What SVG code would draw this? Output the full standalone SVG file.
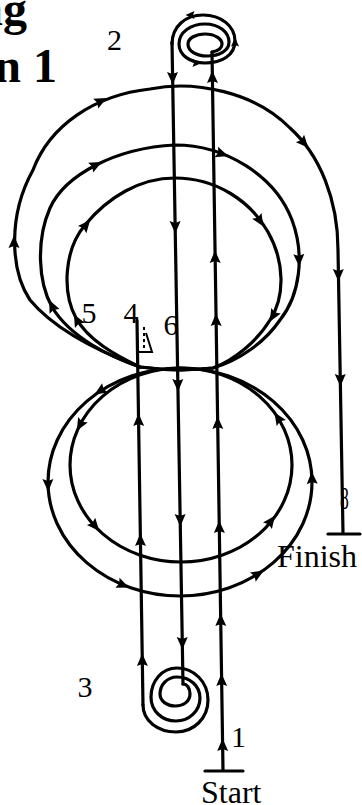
<svg xmlns="http://www.w3.org/2000/svg" width="362" height="805" viewBox="0 0 362 805">
<style>
.ln{fill:none;stroke:#000;stroke-width:3.2;stroke-linecap:round;stroke-linejoin:round}
.thin{fill:none;stroke:#000;stroke-width:2}
.t{font-family:"Liberation Serif","Times New Roman",serif;fill:#000}
.b{font-weight:bold;font-size:48px}
.n{font-size:30px}
.w{font-size:32px}
</style>
<defs>
<path id="ah" d="M6.5,0 L-6,-5.5 L-4,0 L-6,5.5 Z" fill="#000"/>
<path id="as" d="M4.5,0 L-4.5,-4 L-3,0 L-4.5,4 Z" fill="#000"/>
</defs>
<rect width="362" height="805" fill="#fff"/>

<g id="title">
<text class="t b" x="27" y="25" text-anchor="end">ng</text>
<text class="t b" x="57" y="82" text-anchor="end">n 1</text>
</g>

<g id="connectors">
<path id="upper-outer" class="ln" d="M140,367 C100,352 55,330 30,300 C10,270 8,215 33,170 C50,125 95,95 150,89 C195,80 255,92 290,128 C320,155 338,200 338,250 L343,533"/>
<path id="upper-middle" class="ln" d="M140,367 C110,357 70,337 52,307 C38,282 36,240 50,208 C65,175 115,148 175,145 C225,145 275,175 292,220 C305,255 300,295 280,320 C265,342 240,360 213,368 Q177,372 140,367"/>
<path id="upper-inner" class="ln" d="M140,367 C115,355 88,340 76,318 C62,292 64,250 85,225 C108,197 140,178 175,178 C215,178 250,200 268,232 C285,262 285,297 270,320 C258,340 235,360 213,368 Q177,372 140,367"/>
<ellipse id="lower-outer" class="ln" cx="180" cy="482" rx="132" ry="114"/>
<ellipse id="lower-inner" class="ln" cx="181" cy="465" rx="111" ry="97"/>
<path id="line-down" class="ln" d="M172,42 L183,684"/>
<path id="line-up" class="ln" d="M223,770 L212,52"/>
<path id="line-4" class="ln" d="M137,320 L143,705"/>
<path id="spiral-top" class="ln" d="M172,44 C172,26 186,15 203,15 C221,15 235,26 235,41 C235,55 222,63 205,63 C190,63 179,55 179,44 C179,32 191,24 205,24 C219,24 229,32 229,42 C229,51 219,56 207,56 C196,56 188,51 188,44 C188,38 196,34 205,34 C215,34 222,39 222,44 C222,48 218,51 212,52"/>
<path id="spiral-bottom" class="ln" d="M143,705 C143,721 158,732 176,732 C194,732 208,718 208,700 C208,682 194,668 177,668 C162,668 151,681 151,697 C151,711 162,721 176,721 C189,721 200,711 200,698 C200,686 190,677 177,677 C167,677 160,685 160,694 C160,701 167,706 175,706 C184,706 190,701 190,694 C190,688 187,684 183,684"/>
<path class="ln" d="M328,534 L360,534"/>
<path class="ln" d="M205,771 L243,771"/>
<path class="thin" d="M144,327 L144,350" stroke-dasharray="3,3"/>
<path class="thin" d="M146,333 L152,352 L139,352"/>
</g>

<g id="arrows">
<use href="#ah" transform="translate(101,101) rotate(-27)"/>
<use href="#ah" transform="translate(14,242) rotate(-90)"/>
<use href="#ah" transform="translate(304,143) rotate(48)"/>
<use href="#ah" transform="translate(338.4,275) rotate(89)"/>
<use href="#ah" transform="translate(340.3,380) rotate(89)"/>
<use href="#ah" transform="translate(52,306) rotate(-115)"/>
<use href="#ah" transform="translate(96,165) rotate(-27)"/>
<use href="#ah" transform="translate(222,154) rotate(19)"/>
<use href="#ah" transform="translate(299,260) rotate(88)"/>
<use href="#ah" transform="translate(77,320) rotate(-118)"/>
<use href="#ah" transform="translate(86,225) rotate(-50)"/>
<use href="#ah" transform="translate(260,221) rotate(58)"/>
<use href="#ah" transform="translate(273,316) rotate(120)"/>
<use href="#ah" transform="translate(100,391) rotate(148)"/>
<use href="#ah" transform="translate(48,485) rotate(89)"/>
<use href="#ah" transform="translate(123,585) rotate(22)"/>
<use href="#ah" transform="translate(258,574) rotate(-31)"/>
<use href="#ah" transform="translate(312,478) rotate(-92)"/>
<use href="#ah" transform="translate(80,425) rotate(119)"/>
<use href="#ah" transform="translate(95,526) rotate(49)"/>
<use href="#ah" transform="translate(271,521) rotate(-54)"/>
<use href="#ah" transform="translate(278,418) rotate(-123)"/>
<use href="#ah" transform="translate(172.6,78) rotate(89)"/>
<use href="#ah" transform="translate(175.2,227) rotate(89)"/>
<use href="#ah" transform="translate(177.9,385) rotate(89)"/>
<use href="#ah" transform="translate(180.2,520) rotate(89)"/>
<use href="#ah" transform="translate(182.3,643) rotate(89)"/>
<use href="#ah" transform="translate(212.4,77) rotate(-91)"/>
<use href="#ah" transform="translate(215.1,257) rotate(-91)"/>
<use href="#ah" transform="translate(216.1,320) rotate(-91)"/>
<use href="#ah" transform="translate(217.7,423) rotate(-91)"/>
<use href="#ah" transform="translate(219.3,527) rotate(-91)"/>
<use href="#ah" transform="translate(220.7,620) rotate(-91)"/>
<use href="#ah" transform="translate(221.6,680) rotate(-91)"/>
<use href="#ah" transform="translate(222.6,745) rotate(-91)"/>
<use href="#ah" transform="translate(138.6,420) rotate(-91)"/>
<use href="#ah" transform="translate(140.4,540) rotate(-91)"/>
<use href="#ah" transform="translate(142.3,660) rotate(-91)"/>
<use href="#as" transform="translate(190,15) rotate(180)"/>
<use href="#as" transform="translate(235,42) rotate(-90)"/>
<use href="#as" transform="translate(197,63) rotate(0)"/>
</g>

<g id="labels">
<text class="t n" x="114.5" y="50" text-anchor="middle">2</text>
<text class="t n" x="89" y="323" text-anchor="middle">5</text>
<text class="t n" x="131" y="323" text-anchor="middle">4</text>
<text class="t n" x="171" y="335" text-anchor="middle">6</text>
<text class="t n" x="85" y="697" text-anchor="middle">3</text>
<text class="t n" x="238.5" y="747" text-anchor="middle">1</text>
<text class="t w" transform="translate(344.5,509) scale(0.55,1)" text-anchor="middle">8</text>
<text class="t w" x="277" y="567">Finish</text>
<text class="t w" x="201" y="803">Start</text>
</g>
</svg>
